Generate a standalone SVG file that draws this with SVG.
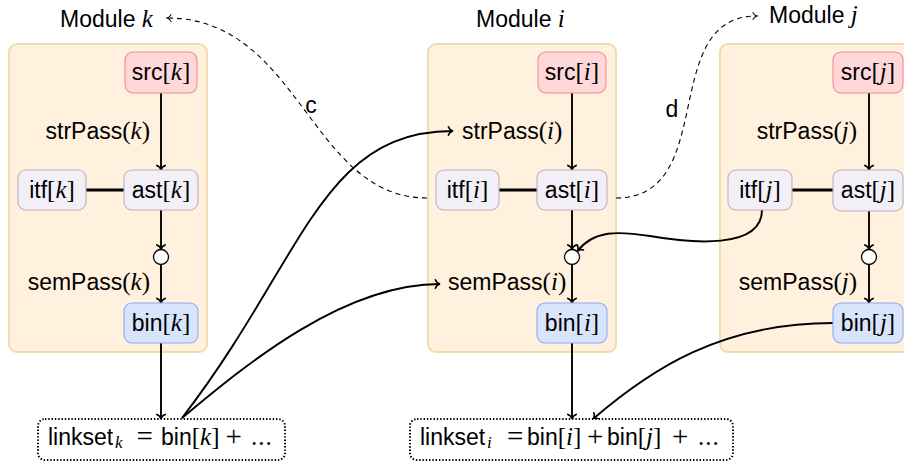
<svg xmlns="http://www.w3.org/2000/svg" width="904" height="464" viewBox="0 0 904 464">
  <defs>
    <style>
      .mod { fill: #fff1dd; stroke: #f1dcae; stroke-width: 2; }
      .src { fill: #ffd7d9; stroke: #f38a8e; stroke-width: 1.1; }
      .ast { fill: #f3eff6; stroke: #bfb0c1; stroke-width: 1.1; }
      .bin { fill: #d8e3fc; stroke: #8eaaf0; stroke-width: 1.1; }
      .merge { fill: #ffffff; stroke: #000; stroke-width: 1.3; }
      .link { fill: #ffffff; stroke: #000; stroke-width: 2; stroke-dasharray: 1.4 1.9; }
      .edge { fill: none; stroke: #000; stroke-width: 1.9; }
      .thick { fill: none; stroke: #000; stroke-width: 3; }
      .dash { fill: none; stroke: #000; stroke-width: 1.1; stroke-dasharray: 5 4; }
      .sf { font-family: "Liberation Sans", Arial, sans-serif; font-size: 23px; fill: #000; }
      .nl { font-family: "Liberation Sans", Arial, sans-serif; font-size: 23px; fill: #000; text-anchor: middle; }
      .m { font-family: "Liberation Serif", "Times New Roman", serif; font-size: 25px; font-style: normal; }
      .op { font-family: "Liberation Serif", "Times New Roman", serif; font-size: 29px; font-style: normal; }
      .v { font-family: "Liberation Serif", "Times New Roman", serif; font-size: 25px; font-style: italic; }
      .sub { font-family: "Liberation Serif", "Times New Roman", serif; font-size: 17px; font-style: italic; }
    </style>
    <marker id="to" viewBox="-6 -5 8 10" markerWidth="8" markerHeight="10" refX="0" refY="0" orient="auto" markerUnits="userSpaceOnUse">
      <path d="M-4.6,-4.2 C-3.7,-1.7 -1.2,-0.3 0,0 C-1.2,0.3 -3.7,1.7 -4.6,4.2" fill="none" stroke="#000" stroke-width="1.6" stroke-linecap="round"/>
    </marker>
    <marker id="toThin" viewBox="-6 -5 8 10" markerWidth="8" markerHeight="10" refX="0" refY="0" orient="auto" markerUnits="userSpaceOnUse">
      <path d="M-4,-3.4 C-3.2,-1.4 -1,-0.3 0,0 C-1,0.3 -3.2,1.4 -4,3.4" fill="none" stroke="#000" stroke-width="1.1" stroke-linecap="round"/>
    </marker>
  </defs>

  <!-- module containers -->
  <g id="module-k">
    <rect class="mod" x="9" y="44" width="198" height="308" rx="8"/>
    <text class="sf" x="60" y="27">Module <tspan class="v">k</tspan></text>
  </g>
  <g id="module-i">
    <rect class="mod" x="428" y="44" width="188" height="308" rx="8"/>
    <text class="sf" x="476" y="27">Module <tspan class="v">i</tspan></text>
  </g>
  <g id="module-j">
    <rect class="mod" x="720" y="44" width="200" height="308" rx="8"/>
    <text class="sf" x="769" y="23">Module <tspan class="v">j</tspan></text>
  </g>

  <!-- connectors -->
  <g id="connectors">
    <!-- module k -->
    <line class="edge" x1="161" y1="93" x2="161" y2="170" marker-end="url(#to)"/>
    <line class="edge" x1="161" y1="210" x2="161" y2="249.5" marker-end="url(#to)"/>
    <line class="edge" x1="161" y1="264.5" x2="161" y2="303" marker-end="url(#to)"/>
    <line class="edge" x1="161" y1="343" x2="161" y2="419" marker-end="url(#to)"/>
    <line class="thick" x1="86" y1="190" x2="124" y2="190"/>
    <text class="sf" x="150" y="139" text-anchor="end">strPass<tspan class="m">(</tspan><tspan class="v">k</tspan><tspan class="m">)</tspan></text>
    <text class="sf" x="150" y="290" text-anchor="end">semPass<tspan class="m">(</tspan><tspan class="v">k</tspan><tspan class="m">)</tspan></text>

    <!-- module i -->
    <line class="edge" x1="572" y1="93" x2="572" y2="170" marker-end="url(#to)"/>
    <line class="edge" x1="572" y1="210" x2="572" y2="249.5" marker-end="url(#to)"/>
    <line class="edge" x1="572" y1="264.5" x2="572" y2="303" marker-end="url(#to)"/>
    <line class="edge" x1="572" y1="343" x2="572" y2="419" marker-end="url(#to)"/>
    <line class="thick" x1="499" y1="190" x2="537" y2="190"/>
    <text class="sf" x="462" y="139">strPass<tspan class="m">(</tspan><tspan class="v">i</tspan><tspan class="m">)</tspan></text>
    <text class="sf" x="448" y="290">semPass<tspan class="m">(</tspan><tspan class="v">i</tspan><tspan class="m">)</tspan></text>

    <!-- module j -->
    <line class="edge" x1="869" y1="93" x2="869" y2="170" marker-end="url(#to)"/>
    <line class="edge" x1="869" y1="211" x2="869" y2="249.5" marker-end="url(#to)"/>
    <line class="edge" x1="869" y1="264.5" x2="869" y2="303" marker-end="url(#to)"/>
    <line class="thick" x1="792" y1="190" x2="833" y2="190"/>
    <text class="sf" x="857" y="139" text-anchor="end">strPass<tspan class="m">(</tspan><tspan class="v">j</tspan><tspan class="m">)</tspan></text>
    <text class="sf" x="857" y="290" text-anchor="end">semPass<tspan class="m">(</tspan><tspan class="v">j</tspan><tspan class="m">)</tspan></text>

    <!-- cross-module dependencies -->
    <path class="dash" d="M427,198 C310,198 300,18 167,18" marker-end="url(#toThin)"/>
    <text class="sf" x="311" y="113" text-anchor="middle">c</text>
    <path class="dash" d="M616,198 C720,198 657,16 757,16" marker-end="url(#toThin)"/>
    <text class="sf" x="672" y="117" text-anchor="middle">d</text>

    <!-- link set feeds the passes of module i -->
    <path class="edge" d="M182,418 C304,260 320,131 453,131" marker-end="url(#to)"/>
    <path class="edge" d="M182,418 C240,370 340,284 440,284" marker-end="url(#to)"/>

    <!-- interface of j into semantic pass of i -->
    <path class="edge" d="M762,210 C762,250 690,243 650,236 C618,231 594,230 577.5,251" marker-end="url(#to)"/>

    <!-- bin[j] into link set of i -->
    <path class="edge" d="M833,323 C720,323 650,370 593,419" marker-end="url(#to)"/>
  </g>

  <!-- merge points -->
  <g id="merge-k"><circle class="merge" cx="161" cy="257" r="7.5"/></g>
  <g id="merge-i"><circle class="merge" cx="572" cy="257" r="7.5"/></g>
  <g id="merge-j"><circle class="merge" cx="869" cy="257" r="7.5"/></g>

  <!-- module k nodes -->
  <g id="src-k">
    <rect class="src" x="125" y="52" width="72" height="41" rx="8"/>
    <text class="nl" x="161" y="80">src<tspan class="m">[</tspan><tspan class="v">k</tspan><tspan class="m">]</tspan></text>
  </g>
  <g id="ast-k">
    <rect class="ast" x="124" y="170" width="74" height="40" rx="8"/>
    <text class="nl" x="161" y="197.5">ast<tspan class="m">[</tspan><tspan class="v">k</tspan><tspan class="m">]</tspan></text>
  </g>
  <g id="itf-k">
    <rect class="ast" x="18" y="170" width="68" height="40" rx="8"/>
    <text class="nl" x="52" y="197.5">itf<tspan class="m">[</tspan><tspan class="v">k</tspan><tspan class="m">]</tspan></text>
  </g>
  <g id="bin-k">
    <rect class="bin" x="124" y="303" width="74" height="40" rx="8"/>
    <text class="nl" x="161" y="330.5">bin<tspan class="m">[</tspan><tspan class="v">k</tspan><tspan class="m">]</tspan></text>
  </g>

  <!-- module i nodes -->
  <g id="src-i">
    <rect class="src" x="538" y="52" width="68" height="41" rx="8"/>
    <text class="nl" x="572" y="80">src<tspan class="m">[</tspan><tspan class="v">i</tspan><tspan class="m">]</tspan></text>
  </g>
  <g id="ast-i">
    <rect class="ast" x="537" y="170" width="70" height="40" rx="8"/>
    <text class="nl" x="572" y="197.5">ast<tspan class="m">[</tspan><tspan class="v">i</tspan><tspan class="m">]</tspan></text>
  </g>
  <g id="itf-i">
    <rect class="ast" x="436" y="170" width="63" height="40" rx="8"/>
    <text class="nl" x="467.5" y="197.5">itf<tspan class="m">[</tspan><tspan class="v">i</tspan><tspan class="m">]</tspan></text>
  </g>
  <g id="bin-i">
    <rect class="bin" x="537" y="303" width="70" height="40" rx="8"/>
    <text class="nl" x="572" y="330.5">bin<tspan class="m">[</tspan><tspan class="v">i</tspan><tspan class="m">]</tspan></text>
  </g>

  <!-- module j nodes -->
  <g id="src-j">
    <rect class="src" x="833" y="52" width="70" height="41" rx="8"/>
    <text class="nl" x="868" y="80">src<tspan class="m">[</tspan><tspan class="v">j</tspan><tspan class="m">]</tspan></text>
  </g>
  <g id="ast-j">
    <rect class="ast" x="833" y="170" width="70" height="41" rx="8"/>
    <text class="nl" x="868" y="197.5">ast<tspan class="m">[</tspan><tspan class="v">j</tspan><tspan class="m">]</tspan></text>
  </g>
  <g id="itf-j">
    <rect class="ast" x="728" y="170" width="64" height="40" rx="8"/>
    <text class="nl" x="760" y="197.5">itf<tspan class="m">[</tspan><tspan class="v">j</tspan><tspan class="m">]</tspan></text>
  </g>
  <g id="bin-j">
    <rect class="bin" x="833" y="303" width="70" height="40" rx="8"/>
    <text class="nl" x="868" y="330.5">bin<tspan class="m">[</tspan><tspan class="v">j</tspan><tspan class="m">]</tspan></text>
  </g>

  <!-- link sets -->
  <g id="linkset-k">
    <rect class="link" x="38" y="419" width="247" height="41" rx="7"/>
    <text class="sf" y="445"><tspan x="48">linkset</tspan><tspan class="sub" x="115" y="448">k</tspan><tspan class="op" x="136.5" y="446">=</tspan><tspan x="161" y="445">bin</tspan><tspan class="m">[</tspan><tspan class="v">k</tspan><tspan class="m">]</tspan><tspan class="op" x="225.5" y="446">+</tspan><tspan class="m" x="251" y="445" letter-spacing="1">...</tspan></text>
  </g>
  <g id="linkset-i">
    <rect class="link" x="410" y="419" width="323" height="41" rx="7"/>
    <text class="sf" y="445"><tspan x="420">linkset</tspan><tspan class="sub" x="487" y="448">i</tspan><tspan class="op" x="507" y="446">=</tspan><tspan x="527" y="445">bin</tspan><tspan class="m">[</tspan><tspan class="v">i</tspan><tspan class="m">]</tspan><tspan class="op" x="587" y="446">+</tspan><tspan x="607" y="445">bin</tspan><tspan class="m">[</tspan><tspan class="v">j</tspan><tspan class="m">]</tspan><tspan class="op" x="672" y="446">+</tspan><tspan class="m" x="698" y="445" letter-spacing="1">...</tspan></text>
  </g>
</svg>
